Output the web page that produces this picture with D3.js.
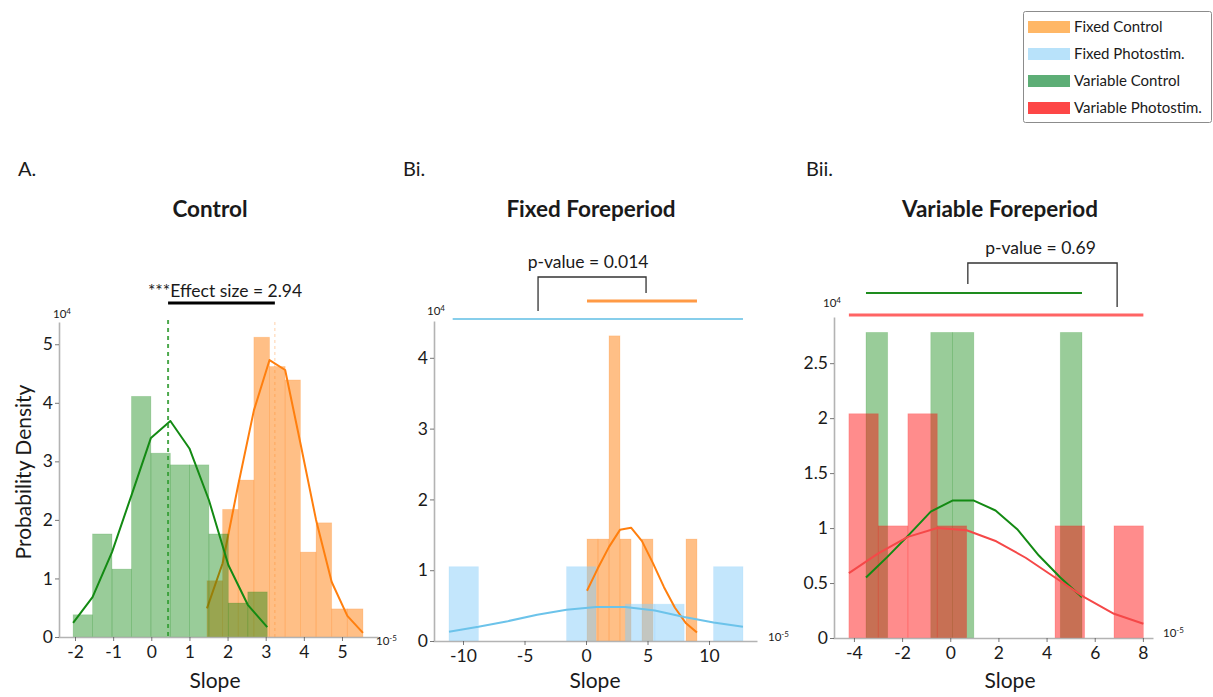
<!DOCTYPE html>
<html><head><meta charset="utf-8">
<script src="https://cdn.jsdelivr.net/npm/d3@7"></script>
<style>
body{margin:0;background:#fff}
svg{display:block}
text{font-family:Lato,"Open Sans",sans-serif;fill:#1a1a1a}
</style>
</head><body>
<svg id="c" width="1213" height="697"></svg>
<script>
// ---------- DATA (x in units of 1e-5, y in units of 1e4) ----------
// Panel A: Control
const aVarCtrlEdges   = [-2.05,-1.54,-1.03,-0.52,-0.01,0.50,1.00,1.51,2.02,2.53,3.04];
const aVarCtrlDensity = [0.38,1.76,1.16,4.11,3.14,2.94,2.94,1.76,0.58,0.77];
const aVarCtrlKde     = [0.24,0.68,1.45,2.42,3.40,3.69,3.22,2.34,1.23,0.55,0.17];
const aFixCtrlEdges   = [1.46,1.87,2.28,2.69,3.10,3.51,3.91,4.32,4.73,5.14,5.55];
const aFixCtrlDensity = [0.96,2.18,2.68,5.12,4.62,4.39,1.45,1.95,0.48,0.48];
const aFixCtrlKde     = [0.49,1.26,2.60,3.87,4.73,4.56,3.31,2.00,0.94,0.36,0.07];
const aMeans          = [0.44,3.24];           // variable control, fixed control
const aXTicks = [-2,-1,0,1,2,3,4,5];
const aYTicks = [0,1,2,3,4,5];

// Panel Bi: Fixed foreperiod
const biPhotoEdges   = [-11.14,-8.75,-6.36,-3.97,-1.58,0.81,3.20,5.59,7.98,10.37,12.76];
const biPhotoDensity = [1.05,0,0,0,1.05,0,0.52,0.52,0,1.05];
const biPhotoKde     = [0.13,0.20,0.28,0.37,0.44,0.48,0.48,0.43,0.34,0.26,0.20];
const biCtrlEdges    = [0.08,0.97,1.87,2.76,3.66,4.55,5.44,6.34,7.23,8.13,9.02];
const biCtrlDensity  = [1.44,1.44,4.31,1.44,0,1.44,0,0,0,1.44];
const biCtrlKde      = [0.71,1.03,1.33,1.57,1.60,1.41,1.10,0.76,0.47,0.25,0.12];
const biPhotoRange   = [-10.84,12.76];
const biCtrlRange    = [0.08,9.02];
const biBracket      = [-3.9,4.88];
const biXTicks = [-10,-5,0,5,10];
const biYTicks = [0,1,2,3,4];

// Panel Bii: Variable foreperiod
const biiPhotoEdges   = [-4.21,-2.99,-1.76,-0.54,0.68,1.91,3.13,4.35,5.58,6.80,8.02];
const biiPhotoDensity = [2.04,1.02,2.04,1.02,0,0,0,1.02,0,1.02];
const biiPhotoKde     = [0.59,0.77,0.92,1.00,0.98,0.88,0.73,0.55,0.37,0.22,0.13];
const biiCtrlEdges    = [-3.50,-2.60,-1.71,-0.81,0.09,0.98,1.88,2.78,3.68,4.57,5.47];
const biiCtrlDensity  = [2.78,0,0,2.78,2.78,0,0,0,0,2.78];
const biiCtrlKde      = [0.55,0.74,0.94,1.15,1.25,1.25,1.16,0.99,0.75,0.55,0.37];
const biiPhotoRange   = [-4.21,8.02];
const biiCtrlRange    = [-3.50,5.47];
const biiBracket      = [0.73,6.93];
const biiXTicks = [-4,-2,0,2,4,6,8];
const biiYTicks = [0,0.5,1,1.5,2,2.5];

const legendLabels = ["Fixed Control","Fixed Photostim.","Variable Control","Variable Photostim."];
const legendColors = ["#ffb766","#b8e2fa","#5dae76","#fd4646"];

// ---------- DRAWING ----------
const svg = d3.select("#c");
const AX = "#b3b3b3";

function drawPanel(p){
  const x = d3.scaleLinear().domain(p.xDomain).range(p.xRange);
  const y = d3.scaleLinear().domain(p.yDomain).range(p.yRange);
  const g = svg.append("g");

  p.layers.forEach(l=>{
    if(l.type==="hist"){
      const bins = l.heights.map((h,i)=>({x0:l.edges[i],x1:l.edges[i+1],h}));
      g.append("g").selectAll("rect").data(bins.filter(b=>b.h>0)).join("rect")
        .attr("x",d=>x(d.x0)).attr("width",d=>x(d.x1)-x(d.x0))
        .attr("y",d=>y(d.h)).attr("height",d=>y(0)-y(d.h))
        .attr("fill",l.color).attr("fill-opacity",l.opacity)
        .attr("stroke",l.color).attr("stroke-opacity",l.opacity*0.4).attr("stroke-width",0.8);
    } else if(l.type==="curve"){
      const line = d3.line().x(d=>x(d[0])).y(d=>y(d[1]));
      g.append("path").datum(l.edges.map((e,i)=>[e,l.values[i]]))
        .attr("d",line).attr("fill","none").attr("stroke",l.color)
        .attr("stroke-width",l.width||2).attr("stroke-opacity",l.opacity||1)
        .attr("stroke-linejoin","round");
    } else if(l.type==="vline"){
      g.append("line").attr("x1",x(l.value)).attr("x2",x(l.value))
        .attr("y1",l.top).attr("y2",y(0))
        .attr("stroke",l.color).attr("stroke-width",l.width)
        .attr("stroke-opacity",l.opacity).attr("stroke-dasharray",l.dash);
    } else if(l.type==="hline"){
      g.append("line").attr("x1",x(l.range[0])).attr("x2",x(l.range[1]))
        .attr("y1",l.yPix).attr("y2",l.yPix)
        .attr("stroke",l.color).attr("stroke-width",l.width).attr("stroke-opacity",l.opacity||1);
    } else if(l.type==="bracket"){
      const [a,b]=l.range;
      g.append("path").attr("d",`M${x(a)},${l.leftBottom}V${l.top}H${x(b)}V${l.rightBottom}`)
        .attr("fill","none").attr("stroke","#333").attr("stroke-width",1.3);
      g.append("text").attr("x",(x(a)+x(b))/2 + (l.textDx||0)).attr("y",l.top-9)
        .attr("text-anchor","middle").style("font-size","17.5px").text(l.text);
    }
  });

  // axes
  const xa = g.append("g").attr("transform",`translate(0,${p.yRange[0]})`)
    .call(d3.axisBottom(x).tickValues(p.xTicks).tickSize(4).tickSizeOuter(0).tickPadding(5)
      .tickFormat(d=>d<0?"-"+Math.abs(d):d));
  const ya = g.append("g").attr("transform",`translate(${p.xRange[0]+1},0)`)
    .call(d3.axisLeft(y).tickValues(p.yTicks).tickSize(4).tickSizeOuter(0).tickPadding(2)
      .tickFormat(d=>String(d)));
  [xa,ya].forEach(a=>{
    a.select(".domain").attr("stroke",AX).attr("stroke-width",1.6);
    a.selectAll(".tick line").attr("stroke","#555").attr("stroke-width",0.8);
    a.selectAll(".tick text").style("font-size","17.5px").style("font-family","Lato,'Open Sans',sans-serif").attr("fill","#1a1a1a");
  });

  // scale exponents
  const e1 = g.append("text").attr("x",p.yExpPos[0]).attr("y",p.yExpPos[1]).style("font-size","11.5px");
  e1.append("tspan").text("10");
  e1.append("tspan").attr("dy",-4).style("font-size","8px").text("4");
  const e2 = g.append("text").attr("x",p.xExpPos[0]).attr("y",p.xExpPos[1]).style("font-size","11.5px");
  e2.append("tspan").text("10");
  e2.append("tspan").attr("dy",-4).style("font-size","8px").text("-5");

  // labels
  g.append("text").attr("x",p.tag[0]).attr("y",176).style("font-size","20px").text(p.tag[1]);
  g.append("text").attr("x",p.titleX).attr("y",217).attr("text-anchor","middle")
    .style("font-size","22.5px").style("font-weight","bold").text(p.title);
  g.append("text").attr("x",p.slopeX).attr("y",688).attr("text-anchor","middle")
    .style("font-size","21px").text("Slope");
  return {x,y};
}

// Panel A
drawPanel({
  xDomain:[-2.446,5.944], xRange:[58,378], yDomain:[0,5.38], yRange:[637,322],
  xTicks:aXTicks, yTicks:aYTicks, yExpPos:[53,318], xExpPos:[376,645],
  tag:[18,"A."], title:"Control", titleX:210, slopeX:215,
  layers:[
    {type:"hist",edges:aFixCtrlEdges,heights:aFixCtrlDensity,color:"#ff7f0e",opacity:0.5},
    {type:"curve",edges:aFixCtrlEdges,values:aFixCtrlKde,color:"#ff7f0e",width:2},
    {type:"hist",edges:aVarCtrlEdges,heights:aVarCtrlDensity,color:"#008000",opacity:0.4},
    {type:"curve",edges:aVarCtrlEdges,values:aVarCtrlKde,color:"#138a13",width:2},
    {type:"vline",value:aMeans[0],top:320,color:"#2e9a2e",width:2,opacity:0.85,dash:"4,4"},
    {type:"vline",value:aMeans[1],top:322,color:"#ff7f0e",width:1,opacity:0.35,dash:"3,3"},
    {type:"hline",range:aMeans,yPix:303,color:"#000",width:3}
  ]
});
svg.append("text").attr("x",225).attr("y",297).attr("text-anchor","middle")
  .style("font-size","17.5px").text("***Effect size = 2.94");
svg.append("text").attr("transform","translate(31,472) rotate(-90)").attr("text-anchor","middle")
  .style("font-size","21px").text("Probability Density");

// Panel Bi
drawPanel({
  xDomain:[-12.44,13.9], xRange:[433,757], yDomain:[0,4.52], yRange:[641,321],
  xTicks:biXTicks, yTicks:biYTicks, yExpPos:[427,315], xExpPos:[768,641],
  tag:[403,"Bi."], title:"Fixed Foreperiod", titleX:591, slopeX:595,
  layers:[
    {type:"hist",edges:biCtrlEdges,heights:biCtrlDensity,color:"#ff7f0e",opacity:0.5},
    {type:"hist",edges:biPhotoEdges,heights:biPhotoDensity,color:"#87cefa",opacity:0.5},
    {type:"curve",edges:biCtrlEdges,values:biCtrlKde,color:"#ff7f0e",width:2},
    {type:"curve",edges:biPhotoEdges,values:biPhotoKde,color:"#6cc3ea",width:2},
    {type:"hline",range:biPhotoRange,yPix:319,color:"#87ceeb",width:2},
    {type:"hline",range:biCtrlRange,yPix:301,color:"#ff9a45",width:3},
    {type:"bracket",range:biBracket,top:277,leftBottom:311,rightBottom:293,text:"p-value = 0.014",textDx:-4}
  ]
});

// Panel Bii
drawPanel({
  xDomain:[-4.87,8.42], xRange:[833,1153], yDomain:[0,2.92], yRange:[638,317],
  xTicks:biiXTicks, yTicks:biiYTicks, yExpPos:[823,307], xExpPos:[1163,637],
  tag:[806,"Bii."], title:"Variable Foreperiod", titleX:1000, slopeX:1010,
  layers:[
    {type:"hist",edges:biiCtrlEdges,heights:biiCtrlDensity,color:"#008000",opacity:0.4},
    {type:"hist",edges:biiPhotoEdges,heights:biiPhotoDensity,color:"#ff0000",opacity:0.45},
    {type:"curve",edges:biiCtrlEdges,values:biiCtrlKde,color:"#138a13",width:2},
    {type:"curve",edges:biiPhotoEdges,values:biiPhotoKde,color:"#f54848",width:2},
    {type:"hline",range:biiCtrlRange,yPix:293,color:"#1e8c1e",width:2},
    {type:"hline",range:biiPhotoRange,yPix:315,color:"#ff6464",width:3},
    {type:"bracket",range:biiBracket,top:263,leftBottom:284,rightBottom:307,text:"p-value = 0.69",textDx:-2}
  ]
});

// Legend
const lg = svg.append("g");
lg.append("rect").attr("x",1023.5).attr("y",11.5).attr("width",188).attr("height",111)
  .attr("rx",2).attr("fill","#fff").attr("stroke","#8c8c8c").attr("stroke-width",1);
const rows = lg.selectAll("g.row").data(legendLabels).join("g").attr("class","row")
  .attr("transform",(d,i)=>`translate(1028,${27+i*27})`);
rows.append("rect").attr("x",0).attr("y",-6).attr("width",42).attr("height",12)
  .attr("fill",(d,i)=>legendColors[i]);
rows.append("text").attr("x",46).attr("y",5).style("font-size","15px").text(d=>d);
</script>
</body></html>
